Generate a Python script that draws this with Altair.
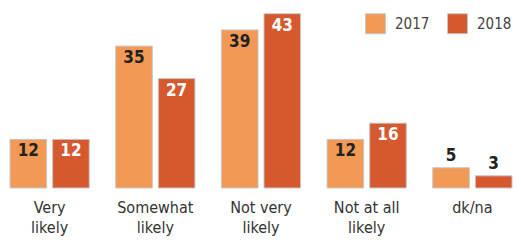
import altair as alt
import pandas as pd

categories = ["Very\nlikely", "Somewhat\nlikely", "Not very\nlikely", "Not at all\nlikely", "dk/na"]
years = ["2017", "2018"]
values_2017 = [12, 35, 39, 12, 5]
values_2018 = [12, 27, 43, 16, 3]
colors = ["#F29A55", "#D5582F"]

rows = []
for c, a, b in zip(categories, values_2017, values_2018):
    rows.append({"category": c, "year": years[0], "value": a})
    rows.append({"category": c, "year": years[1], "value": b})
df = pd.DataFrame(rows)

FONT = "DejaVu Sans Condensed"

x = alt.X(
    "category:N",
    sort=categories,
    scale=alt.Scale(paddingInner=0.25, paddingOuter=0),
    axis=alt.Axis(
        title=None, domain=False, ticks=False, tickSize=0, labelAngle=0,
        labelExpr="split(datum.value, '\\n')",
        labelFontSize=16, labelColor="#333333", labelFont=FONT,
        labelBaseline="alphabetic", labelPadding=24, labelLineHeight=20,
    ),
)
xoff = alt.XOffset("year:N", sort=years, scale=alt.Scale(paddingInner=0.14, paddingOuter=0))
y = alt.Y("value:Q", scale=alt.Scale(domain=[0, 44.4], nice=False), axis=None)

base = alt.Chart(df).encode(x=x, xOffset=xoff, y=y)

bars = base.mark_bar(stroke="#C8C8C8", strokeWidth=1).encode(
    color=alt.Color(
        "year:N",
        scale=alt.Scale(domain=years, range=colors),
        legend=alt.Legend(
            title=None, orient="none", legendX=355, legendY=5,
            direction="horizontal", symbolType="square", symbolSize=400,
            symbolStrokeColor="#C8C8C8", symbolStrokeWidth=1,
            labelFontSize=15, labelFont=FONT, labelColor="#444444",
            labelOffset=9, columnPadding=15, padding=0,
        ),
    )
)

inside = base.mark_text(baseline="middle", dy=12, fontWeight="bold", fontSize=17, font=FONT).encode(
    text="value:Q",
    color=alt.condition(alt.datum.year == "2018", alt.value("#FFFFFF"), alt.value("#222222")),
).transform_filter(alt.datum.value >= 10)

outside = base.mark_text(baseline="middle", dy=-12, fontWeight="bold", fontSize=17, font=FONT, color="#222222").encode(
    text="value:Q",
).transform_filter(alt.datum.value < 10)

chart = alt.layer(bars, inside, outside).properties(
    width=502, height=180,
    autosize=alt.AutoSizeParams(type="none"),
    padding={"left": 2, "top": 0, "right": 1, "bottom": 50},
).configure_view(stroke=None)

chart.save("out.html", embed_options={"renderer": "svg", "actions": False})
